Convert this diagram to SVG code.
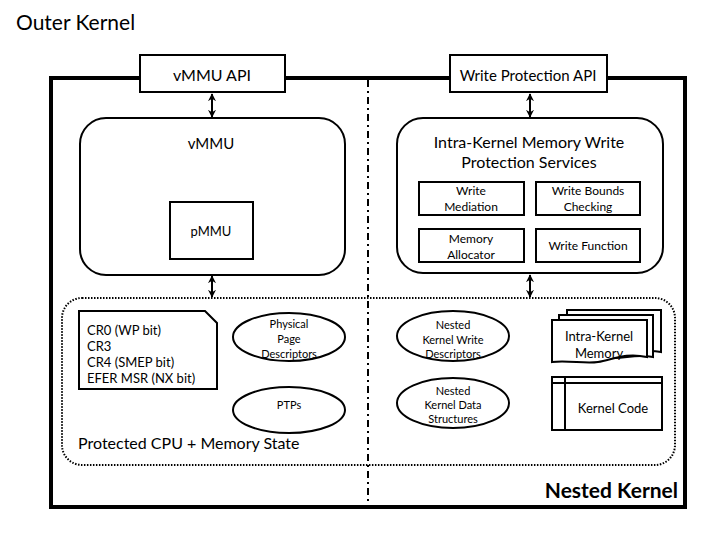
<svg xmlns="http://www.w3.org/2000/svg" width="728" height="545" viewBox="0 0 728 545">
<defs>
<marker id="ah" viewBox="0 0 10 10" refX="9" refY="5" markerWidth="4" markerHeight="4" orient="auto-start-reverse" markerUnits="strokeWidth">
<path d="M0,0 L10,5 L0,10 L3,5 Z" fill="#000"/>
</marker>
</defs>
<style>
text{font-family:Lato,"Open Sans","Liberation Sans",sans-serif;fill:#000}
.box{fill:#fff;stroke:#000;stroke-width:2}
.rr{fill:#fff;stroke:#000;stroke-width:2}
.t16{font-size:16px}
.t15{font-size:15px}
.t13{font-size:13px}
.t12{font-size:12px}
.t11{font-size:11px}
.c{text-anchor:middle}
.conn{stroke:#000;stroke-width:2;fill:none;marker-start:url(#ah);marker-end:url(#ah)}
</style>
<rect width="728" height="545" fill="#fff"/>
<text x="16" y="30" style="font-size:21px">Outer Kernel</text>

<g id="nested-kernel">
<rect x="51" y="78" width="634" height="429" fill="none" stroke="#000" stroke-width="4"/>
<line x1="368" y1="80" x2="368" y2="505" stroke="#000" stroke-width="2" stroke-dasharray="7 4 2 4"/>
<text x="678" y="498" text-anchor="end" style="font-size:21px;font-weight:bold">Nested Kernel</text>
</g>

<g id="protected-state">
<rect x="62" y="298" width="613" height="167" rx="20" ry="20" fill="none" stroke="#000" stroke-width="2" stroke-dasharray="1.5 1.5"/>
<text x="78" y="449" class="t16">Protected CPU + Memory State</text>
</g>

<g id="connectors">
<line class="conn" x1="212" y1="94" x2="212" y2="117"/>
<line class="conn" x1="212" y1="276" x2="212" y2="297"/>
<line class="conn" x1="530" y1="94" x2="530" y2="117"/>
<line class="conn" x1="530" y1="275" x2="530" y2="297"/>
</g>

<g id="vmmu-api">
<rect class="box" x="140" y="55" width="145" height="37"/>
<text x="212" y="81" class="t16 c">vMMU API</text>
</g>

<g id="wp-api">
<rect class="box" x="450" y="55" width="157" height="37"/>
<text x="528" y="81" class="t15 c">Write Protection API</text>
</g>

<g id="vmmu">
<rect class="rr" x="80" y="118" width="265" height="157" rx="26" ry="26"/>
<text x="211" y="149" class="t15 c">vMMU</text>
</g>

<g id="pmmu">
<rect class="box" x="170" y="202" width="83" height="57"/>
<text x="211" y="236" class="t13 c">pMMU</text>
</g>

<g id="wp-services">
<rect class="rr" x="397" y="118" width="266" height="155" rx="26" ry="26"/>
<text x="529" y="148" class="t16 c">Intra-Kernel Memory Write</text>
<text x="529" y="168" class="t16 c">Protection Services</text>
</g>

<g id="write-mediation">
<rect class="box" x="419" y="182" width="105" height="33"/>
<text x="471" y="195" class="t12 c">Write</text>
<text x="471" y="211" class="t12 c">Mediation</text>
</g>

<g id="write-bounds">
<rect class="box" x="536" y="182" width="104" height="33"/>
<text x="588" y="195" class="t12 c">Write Bounds</text>
<text x="588" y="211" class="t12 c">Checking</text>
</g>

<g id="memory-allocator">
<rect class="box" x="419" y="229" width="105" height="33"/>
<text x="471" y="243" class="t12 c">Memory</text>
<text x="471" y="259" class="t12 c">Allocator</text>
</g>

<g id="write-function">
<rect class="box" x="536" y="229" width="104" height="33"/>
<text x="588" y="250" class="t12 c">Write Function</text>
</g>

<g id="cpu-regs">
<path d="M79,311 L205,311 L217,323 L217,389 L79,389 Z" fill="#fff" stroke="#000" stroke-width="2"/>
<text x="87" y="335" class="t13">CR0 (WP bit)</text>
<text x="87" y="351" class="t13">CR3</text>
<text x="87" y="367" class="t13">CR4 (SMEP bit)</text>
<text x="87" y="383" class="t13">EFER MSR (NX bit)</text>
</g>

<g id="phys-page-desc">
<ellipse cx="289" cy="337" rx="56" ry="24" fill="#fff" stroke="#000" stroke-width="2"/>
<text x="289" y="328" class="t11 c">Physical</text>
<text x="289" y="343" class="t11 c">Page</text>
<text x="289" y="358" class="t11 c">Descriptors</text>
</g>

<g id="ptps">
<ellipse cx="289" cy="410" rx="56" ry="23" fill="#fff" stroke="#000" stroke-width="2"/>
<text x="289" y="409" class="t11 c">PTPs</text>
</g>

<g id="nk-write-desc">
<ellipse cx="453" cy="336" rx="56" ry="25" fill="#fff" stroke="#000" stroke-width="2"/>
<text x="453" y="329" class="t11 c">Nested</text>
<text x="453" y="344" class="t11 c">Kernel Write</text>
<text x="453" y="358" class="t11 c">Descriptors</text>
</g>

<g id="nk-data">
<ellipse cx="453" cy="403" rx="56" ry="25" fill="#fff" stroke="#000" stroke-width="2"/>
<text x="453" y="395" class="t11 c">Nested</text>
<text x="453" y="409" class="t11 c">Kernel Data</text>
<text x="453" y="423" class="t11 c">Structures</text>
</g>

<g id="intra-kernel-memory">
<path d="M567,310 L661,310 L661,352 C640,348 630,356 610,352 L567,352 Z" fill="#fff" stroke="#000" stroke-width="2"/>
<path d="M559,315 L653,315 L653,357 C632,353 622,361 602,357 L559,357 Z" fill="#fff" stroke="#000" stroke-width="2"/>
<path d="M552,320 L647,320 L647,357 C625,352 612,360 598,362 C585,364 568,360 552,362 Z" fill="#fff" stroke="#000" stroke-width="2"/>
<text x="599" y="341" class="t13 c">Intra-Kernel</text>
<text x="599" y="358" class="t13 c">Memory</text>
</g>

<g id="kernel-code">
<rect class="box" x="552" y="377" width="110" height="53"/>
<line x1="552" y1="383" x2="662" y2="383" stroke="#000" stroke-width="2"/>
<line x1="565" y1="377" x2="565" y2="430" stroke="#000" stroke-width="2"/>
<text x="613" y="413" class="t13 c">Kernel Code</text>
</g>
</svg>
